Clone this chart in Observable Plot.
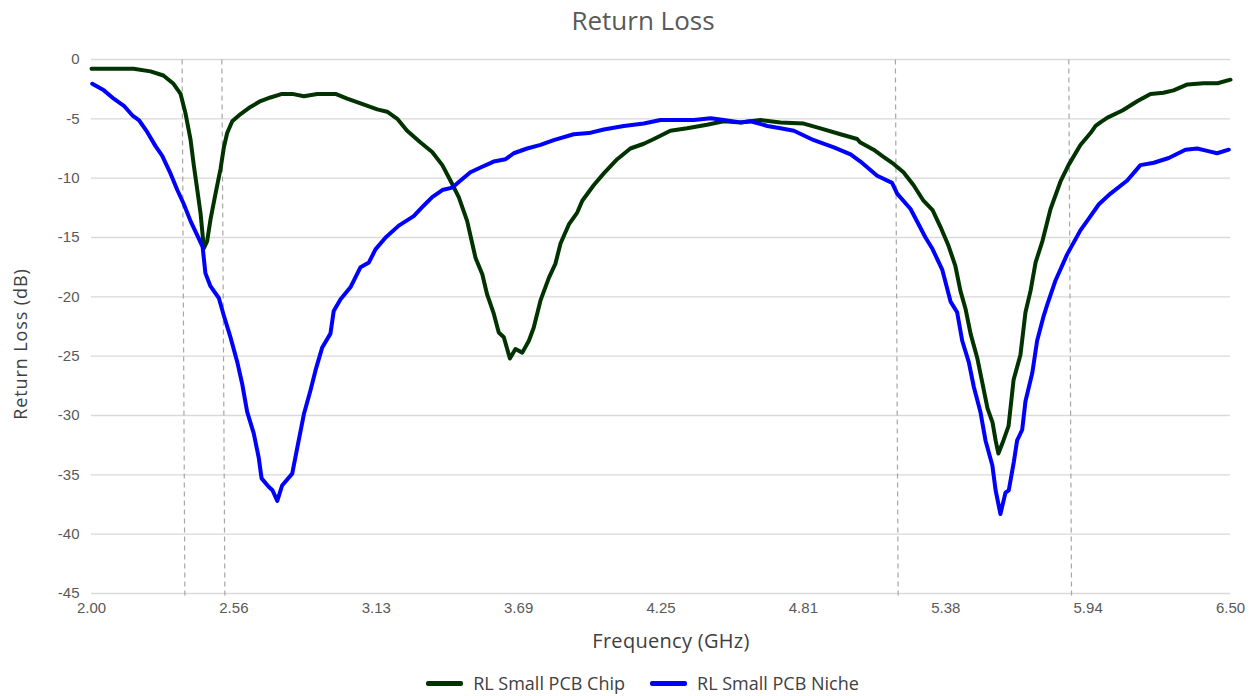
<!DOCTYPE html>
<html>
<head>
<meta charset="utf-8">
<script src="https://cdn.jsdelivr.net/npm/d3@7"></script>
<script src="https://cdn.jsdelivr.net/npm/@observablehq/plot@0.6"></script>
<style>
  html, body { margin: 0; padding: 0; background: #fff; }
  #wrap { position: relative; width: 1255px; height: 696px; overflow: hidden; font-family: "Open Sans", Lato, sans-serif; }
  #title { position: absolute; top: 2px; left: 643px; transform: translateX(-50%); font-size: 26px; color: #595959; white-space: nowrap; }
  #chart { position: absolute; top: 40px; left: 0; }
  #ylab { position: absolute; left: 20px; top: 344px; transform: translate(-50%, -50%) rotate(-90deg); font-size: 18px; letter-spacing: 0.9px; color: #404040; white-space: nowrap; }
  #xlab { position: absolute; left: 671px; top: 627px; transform: translateX(-50%); font-size: 20px; letter-spacing: 0.3px; color: #404040; white-space: nowrap; }
  #legend { position: absolute; top: 671px; left: 0; width: 1255px; display: flex; justify-content: center; gap: 25px; font-size: 18px; color: #404040; padding-left: 30px; box-sizing: border-box; }
  .item { display: flex; align-items: center; gap: 10px; }
  .sw { width: 37px; height: 5px; border-radius: 2px; }
</style>
</head>
<body>
<div id="wrap">
  <div id="title">Return Loss</div>
  <div id="chart"></div>
  <div id="ylab">Return Loss (dB)</div>
  <div id="xlab">Frequency (GHz)</div>
  <div id="legend"></div>
</div>
<script>
// ---- Data ----
const seriesNames = ["RL Small PCB Chip", "RL Small PCB Niche"];
const seriesColors = ["#003300", "#0000ff"];

const chipFreq = [2.000,2.075,2.166,2.233,2.284,2.324,2.352,2.371,2.391,2.404,2.418,2.431,2.444,2.457,2.470,2.490,2.510,2.523,2.536,2.556,2.589,2.628,2.668,2.707,2.753,2.793,2.839,2.892,2.964,3.010,3.063,3.129,3.168,3.208,3.247,3.300,3.346,3.386,3.418,3.451,3.484,3.517,3.544,3.563,3.589,3.609,3.629,3.653,3.675,3.702,3.728,3.747,3.774,3.807,3.833,3.853,3.886,3.919,3.939,3.984,4.024,4.077,4.129,4.182,4.222,4.287,4.353,4.432,4.498,4.564,4.643,4.722,4.814,4.880,4.959,5.025,5.038,5.090,5.129,5.169,5.208,5.248,5.287,5.323,5.354,5.386,5.413,5.433,5.453,5.473,5.500,5.520,5.540,5.560,5.572,5.583,5.603,5.623,5.643,5.670,5.690,5.710,5.730,5.757,5.789,5.828,5.860,5.907,5.947,5.967,5.986,6.014,6.073,6.133,6.184,6.235,6.275,6.330,6.393,6.449,6.500];
const chipDb = [-0.78,-0.78,-0.78,-1.0,-1.35,-2.05,-2.9,-4.5,-6.7,-8.9,-11.0,-13.0,-15.9,-15.3,-13.5,-11.3,-9.2,-7.4,-6.2,-5.2,-4.6,-4.0,-3.5,-3.2,-2.9,-2.9,-3.1,-2.9,-2.9,-3.3,-3.7,-4.2,-4.4,-5.0,-6.0,-7.0,-7.8,-8.9,-10.2,-11.6,-13.6,-16.7,-18.1,-19.8,-21.4,-23.0,-23.4,-25.2,-24.4,-24.7,-23.7,-22.6,-20.3,-18.4,-17.2,-15.5,-13.9,-12.9,-11.9,-10.6,-9.6,-8.4,-7.5,-7.1,-6.7,-6.0,-5.8,-5.5,-5.2,-5.3,-5.1,-5.3,-5.4,-5.8,-6.3,-6.7,-7.0,-7.6,-8.2,-8.8,-9.5,-10.6,-11.9,-12.7,-14.1,-15.7,-17.4,-19.5,-21.0,-23.1,-25.2,-27.3,-29.4,-30.6,-32.1,-33.2,-32.1,-30.9,-27.0,-24.9,-21.3,-19.5,-17.1,-15.3,-12.6,-10.3,-8.9,-7.2,-6.2,-5.6,-5.3,-4.9,-4.3,-3.5,-2.9,-2.8,-2.6,-2.1,-2.0,-2.0,-1.7];

const nicheFreq = [2.003,2.049,2.088,2.128,2.161,2.187,2.220,2.253,2.279,2.312,2.339,2.365,2.391,2.424,2.439,2.450,2.470,2.503,2.523,2.549,2.576,2.595,2.615,2.641,2.661,2.672,2.700,2.715,2.734,2.753,2.793,2.813,2.839,2.865,2.885,2.911,2.944,2.957,2.984,3.023,3.063,3.096,3.122,3.162,3.214,3.273,3.313,3.346,3.386,3.425,3.458,3.497,3.537,3.589,3.636,3.668,3.721,3.774,3.826,3.905,3.965,4.024,4.103,4.182,4.248,4.380,4.446,4.498,4.564,4.604,4.670,4.722,4.775,4.854,4.933,4.999,5.038,5.104,5.163,5.183,5.236,5.295,5.321,5.361,5.394,5.420,5.440,5.466,5.486,5.512,5.532,5.559,5.572,5.591,5.611,5.624,5.644,5.657,5.677,5.690,5.717,5.736,5.762,5.777,5.809,5.855,5.907,5.947,5.980,6.026,6.092,6.144,6.197,6.256,6.322,6.368,6.408,6.447,6.493];
const nicheDb = [-2.05,-2.6,-3.3,-3.9,-4.7,-5.1,-6.1,-7.3,-8.1,-9.6,-11.0,-12.2,-13.6,-15.1,-15.8,-18.0,-19.1,-20.1,-21.6,-23.4,-25.5,-27.3,-29.7,-31.5,-33.6,-35.3,-36.0,-36.3,-37.2,-35.9,-34.9,-32.7,-29.9,-27.9,-26.2,-24.3,-23.1,-21.2,-20.2,-19.2,-17.5,-17.1,-16.0,-15.0,-14.0,-13.2,-12.3,-11.6,-11.0,-10.8,-10.2,-9.5,-9.1,-8.6,-8.4,-7.9,-7.5,-7.2,-6.8,-6.3,-6.2,-5.9,-5.6,-5.4,-5.1,-5.1,-4.95,-5.1,-5.3,-5.2,-5.6,-5.8,-6.0,-6.8,-7.4,-8.0,-8.6,-9.8,-10.4,-11.3,-12.6,-15.0,-15.9,-17.7,-20.4,-21.3,-23.7,-25.5,-27.6,-29.7,-32.1,-34.2,-36.3,-38.3,-36.5,-36.3,-33.9,-32.1,-31.2,-28.8,-26.4,-23.7,-21.6,-20.6,-18.6,-16.4,-14.4,-13.2,-12.2,-11.3,-10.2,-8.9,-8.7,-8.3,-7.6,-7.5,-7.7,-7.9,-7.6];

// Band markers (dashed, slightly slanted in the reference): frequency at top and at bottom
const markerTopFreq = [2.358, 2.515, 5.176, 5.861];
const markerBottomFreq = [2.369, 2.527, 5.187, 5.872];
const markerTopDb = 0;
const markerBottomDb = -45.3;

const xTickValues = [2, 2.5625, 3.125, 3.6875, 4.25, 4.8125, 5.375, 5.9375, 6.5];
const xTickLabels = ["2.00", "2.56", "3.13", "3.69", "4.25", "4.81", "5.38", "5.94", "6.50"];
const yTickValues = [0, -5, -10, -15, -20, -25, -30, -35, -40, -45];
const yTickLabels = ["0", "-5", "-10", "-15", "-20", "-25", "-30", "-35", "-40", "-45"];

// ---- Build tables ----
const chip = chipFreq.map((f, i) => ({f, db: chipDb[i]}));
const niche = nicheFreq.map((f, i) => ({f, db: nicheDb[i]}));
const markers = markerTopFreq.map((t, i) => ({t, b: markerBottomFreq[i]}));

const chart = Plot.plot({
  width: 1255,
  height: 580,
  marginLeft: 91,
  marginRight: 25,
  marginTop: 19,
  marginBottom: 27,
  style: { fontFamily: "'Liberation Sans', Arial, sans-serif", fontSize: "15px", color: "#595959", background: "transparent", overflow: "visible" },
  x: { domain: [2, 6.5], ticks: xTickValues, tickFormat: d => xTickLabels[xTickValues.indexOf(d)], tickSize: 0, tickPadding: 9, label: null },
  y: { domain: [-45, 0], ticks: yTickValues, tickFormat: d => yTickLabels[yTickValues.indexOf(d)], tickSize: 0, tickPadding: 12, label: null },
  marks: [
    Plot.ruleY(yTickValues, { stroke: "#d9d9d9", strokeWidth: 1.3 }),
    Plot.link(markers, { x1: "t", y1: () => markerTopDb, x2: "b", y2: () => markerBottomDb, stroke: "#a6a6a6", strokeWidth: 1.2, strokeDasharray: "5,4", clip: false }),
    Plot.line(chip, { x: "f", y: "db", stroke: seriesColors[0], strokeWidth: 4, strokeLinejoin: "round", strokeLinecap: "round" }),
    Plot.line(niche, { x: "f", y: "db", stroke: seriesColors[1], strokeWidth: 4, strokeLinejoin: "round", strokeLinecap: "round" }),
    Plot.axisX({ ticks: xTickValues, tickFormat: d => xTickLabels[xTickValues.indexOf(d)], tickSize: 0, tickPadding: 9, label: null, fill: "#595959" }),
    Plot.axisY({ ticks: yTickValues, tickFormat: d => yTickLabels[yTickValues.indexOf(d)], tickSize: 0, tickPadding: 12, label: null, fill: "#595959" })
  ]
});
document.getElementById("chart").appendChild(chart);

// Legend
const legend = document.getElementById("legend");
seriesNames.forEach((name, i) => {
  const item = document.createElement("div");
  item.className = "item";
  const sw = document.createElement("div");
  sw.className = "sw";
  sw.style.background = seriesColors[i];
  const lab = document.createElement("span");
  lab.textContent = name;
  item.appendChild(sw);
  item.appendChild(lab);
  legend.appendChild(item);
});
</script>
</body>
</html>
